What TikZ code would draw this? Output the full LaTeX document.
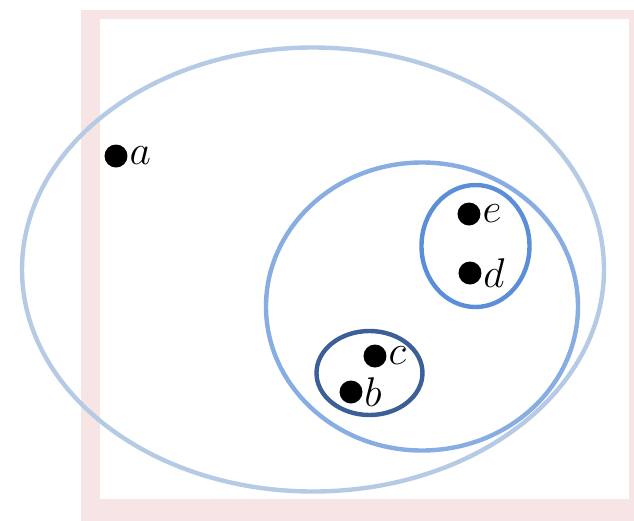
\documentclass[tikz,border=0pt]{standalone}
\usepackage{amsmath, amssymb}
\usepackage{tikz}
\usetikzlibrary{calc,positioning}
\usepackage{xcolor}

\definecolor{framepink}{HTML}{F7E5E5}
\definecolor{setouter}{HTML}{B5CAE5}
\definecolor{setmid}{HTML}{87ADE2}
\definecolor{setde}{HTML}{5A8FD7}
\definecolor{setbc}{HTML}{3B5F96}

\tikzset{
    elem/.style={circle,fill=black,inner sep=0pt,minimum size=11.5pt},
    elemlabel/.style={inner sep=0.6pt,font=\fontsize{20}{24}\selectfont},
    setline/.style={line width=2.2pt}
}

\begin{document}
\begin{tikzpicture}[x=0.5pt,y=-0.5pt]
    \useasboundingbox (0,0) rectangle (634,521);
    % universe frame
    \fill[framepink] (81,10) rectangle (634,521);
    \fill[white] (100,19) rectangle (629,499);

    % nested sets
    \draw[setline,setouter] (313,269.5) ellipse [x radius=291, y radius=222];
    \draw[setline,setmid] (422,306.5) ellipse [x radius=156, y radius=144];
    \draw[setline,setde] (475.5,246) ellipse [x radius=54, y radius=61];
    \draw[setline,setbc] (369.5,373) ellipse [x radius=53, y radius=42];

    % elements
    \node[elem,label={[elemlabel]right:$a$}] (a) at (116,156) {};
    \node[elem,label={[elemlabel]right:$e$}] (e) at (469,214) {};
    \node[elem,label={[elemlabel]right:$d$}] (d) at (470,273) {};
    \node[elem,label={[elemlabel]right:$c$}] (c) at (375,356) {};
    \node[elem,label={[elemlabel]right:$b$}] (b) at (351,392) {};
\end{tikzpicture}
\end{document}
